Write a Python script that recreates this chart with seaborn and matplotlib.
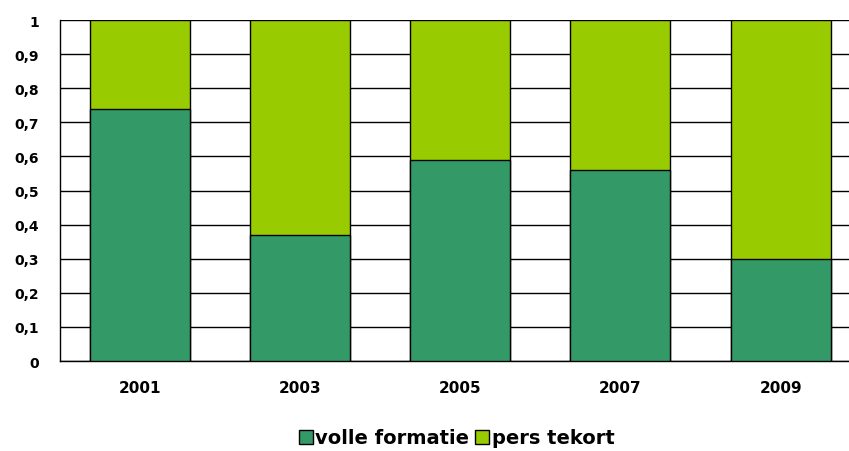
import matplotlib
matplotlib.use("Agg")
import matplotlib.pyplot as plt
import seaborn as sns
import pandas as pd
from matplotlib.patches import Patch

years = ["2001", "2003", "2005", "2007", "2009"]
volle_formatie = [0.74, 0.37, 0.59, 0.56, 0.30]
pers_tekort = [0.26, 0.63, 0.41, 0.44, 0.70]
y_ticks = [0, 0.1, 0.2, 0.3, 0.4, 0.5, 0.6, 0.7, 0.8, 0.9, 1]
y_labels = ["0", "0,1", "0,2", "0,3", "0,4", "0,5", "0,6", "0,7", "0,8", "0,9", "1"]

dark_green = "#339966"
light_green = "#99CC00"

sns.set_theme(style="white")
plt.rcParams["font.family"] = ["DejaVu Sans"]
plt.rcParams["text.color"] = "black"
plt.rcParams["xtick.color"] = "black"
plt.rcParams["ytick.color"] = "black"

df = pd.DataFrame({
    "jaar": years,
    "volle": volle_formatie,
    "totaal": [v + p for v, p in zip(volle_formatie, pers_tekort)],
})

fig = plt.figure(figsize=(8.49, 4.52), dpi=100)
ax = fig.add_axes([0.0707, 0.199, 0.943, 0.7545])

# stacked bars: total in light green, lower segment in dark green on top
sns.barplot(data=df, x="jaar", y="totaal", color=light_green, saturation=1,
            width=0.625, edgecolor="black", linewidth=1, ax=ax, zorder=3)
sns.barplot(data=df, x="jaar", y="volle", color=dark_green, saturation=1,
            width=0.625, edgecolor="black", linewidth=1, ax=ax, zorder=3)

ax.set_xlim(-0.5, 4.5)
ax.set_ylim(0, 1)
ax.set_yticks(y_ticks)
ax.set_yticklabels(y_labels, fontsize=10, fontweight="bold", color="black")
ax.set_xticks(range(len(years)))
ax.set_xticklabels(years, fontsize=11, fontweight="bold", color="black")
ax.set_xlabel("")
ax.set_ylabel("")

# category separators as minor ticks on x
ax.set_xticks([i - 0.5 for i in range(len(years) + 1)], minor=True)
ax.tick_params(axis="x", which="major", length=0, pad=13.5)
ax.tick_params(axis="x", which="minor", length=5, width=1, color="black", direction="out")
ax.tick_params(axis="y", which="major", length=5, width=1, color="black", direction="out", pad=10)

ax.yaxis.grid(True, color="black", linewidth=1, zorder=0)
ax.set_axisbelow(True)
for side in ["top", "right"]:
    ax.spines[side].set_visible(False)
for side in ["left", "bottom"]:
    ax.spines[side].set_color("black")
    ax.spines[side].set_linewidth(1)

handles = [Patch(facecolor=dark_green, edgecolor="black", label="volle formatie"),
           Patch(facecolor=light_green, edgecolor="black", label="pers tekort")]
fig.legend(handles=handles, loc="upper center", bbox_to_anchor=(0.538, 0.05), ncol=2,
           frameon=False, handlelength=0.72, handleheight=0.72, handletextpad=0.15,
           columnspacing=0.3, borderaxespad=0, borderpad=0,
           prop={"weight": "bold", "size": 14})

fig.savefig("out.png", dpi=100)
